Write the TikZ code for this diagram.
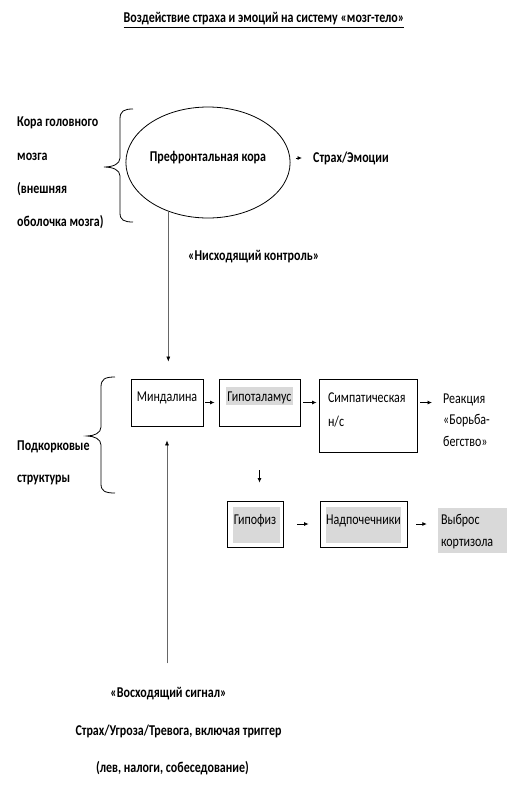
\documentclass[tikz,border=0pt]{standalone}
\usepackage{fontspec}
\setmainfont{Carlito}[FakeStretch=0.8]
\usetikzlibrary{arrows.meta}
\usetikzlibrary{shapes.geometric}
\definecolor{hlgrey}{gray}{0.85}
\newcommand{\greyhl}[1]{{\setlength{\fboxsep}{0pt}\colorbox{hlgrey}{\rule[-3.5pt]{0pt}{18pt}\hspace{1.5pt}#1\hspace{1.5pt}}}}
\tikzset{arr/.style = {-{Latex[length=4.5pt, width=4pt]}, line width=0.8pt}}
\tikzset{longarr/.style = {-{Latex[length=5pt, width=4pt, color=black]}, draw=gray!80!black, line width=0.6pt}}
\tikzset{box/.style = {draw, line width=0.8pt, inner sep=0pt, text height=10pt, text depth=12pt}}
\tikzset{bold/.style = {font=\bfseries}}

\begin{document}
\fontsize{15}{18}\selectfont
\begin{tikzpicture}[x=1pt, y=-1pt]
	\useasboundingbox (0,0) rectangle (520,788);
	\node[bold] (title) at (264,20) {\underline{Воздействие страха и эмоций на систему «мозг-тело»}};
	\node[anchor=west, align=left, font=\bfseries\fontsize{15}{33.3}\selectfont] (cortex) at (12,173)
		{Кора головного\\мозга\\(внешняя\\оболочка мозга)};
	\draw[line width=0.8pt] (133,109) .. controls (124,109) and (120,111) .. (120,119) -- (120,158)
		.. controls (120,164) and (113,167) .. (104,167) .. controls (113,167) and (120,170) .. (120,176)
		-- (120,213) .. controls (120,220) and (124,222) .. (133,222);
	\node[draw, ellipse, line width=0.8pt, minimum width=158pt, minimum height=111pt, inner sep=0pt,
		bold, text height=10pt, text depth=12pt] (pfc) at (208,162.5) {Префронтальная кора};
	\node[bold, anchor=west] (fear) at (308,158) {Страх/Эмоции};
	\draw[arr, shorten <=5pt, shorten >=6pt] (pfc.east |- fear.west) -- (fear.west);
	\node[bold, anchor=west] (down) at (183,257) {«Нисходящий контроль»};

	\draw[line width=0.8pt] (115,377) .. controls (105,377) and (101,379) .. (101,387) -- (101,427)
		.. controls (101,433) and (94,436) .. (87,436) .. controls (94,436) and (101,439) .. (101,445)
		-- (101,484) .. controls (101,491) and (105,493) .. (115,493);
	\node[anchor=west, align=left, font=\bfseries\fontsize{15}{32}\selectfont] (subcortex) at (12,463)
		{Подкорковые\\структуры};

	\node[box, minimum width=72pt, minimum height=47pt] (amy) at (167,402.5) {Миндалина};
	\node[box, minimum width=81pt, minimum height=47pt] (hyp) at (259.5,402.5) {\greyhl{Гипоталамус}};
	\node[box, minimum width=98pt, minimum height=73pt, text width=80pt, align=left, text depth=36pt,
		font=\fontsize{15}{24}\selectfont] (sym) at (368,415.5) {Симпатическая\\н/с};
	\node[anchor=west, align=left, font=\fontsize{15}{21.5}\selectfont] (reac) at (438,420)
		{Реакция\\«Борьба-\\бегство»};

	\fill[hlgrey] (233,507) rectangle (280,543);
	\fill[hlgrey] (326,507) rectangle (401,543);
	\node[box, minimum width=56pt, minimum height=46pt, text depth=9pt] (pit) at (255,524) {Гипофиз};
	\node[box, minimum width=87pt, minimum height=46pt, text depth=9pt] (adr) at (363.5,524) {Надпочечники};
	\node[fill=hlgrey, minimum width=69pt, minimum height=45pt, inner sep=0pt, text width=63pt, align=left,
		text height=10pt, text depth=22pt, font=\fontsize{15}{22}\selectfont] (cort) at (472.5,530.5)
		{Выброс\\кортизола};

	\draw[arr, shorten <=2pt, shorten >=4pt] (amy) -- (hyp);
	\draw[arr, shorten <=3pt, shorten >=2pt] (hyp.east) -- (hyp.east -| sym.west);
	\draw[arr, shorten <=3pt, shorten >=6pt] (hyp.east -| sym.east) -- (hyp.east -| reac.west);
	\draw[arr, shorten <=44pt, shorten >=18pt] (hyp.south) -- (hyp.south |- pit.north);
	\draw[arr, shorten <=14pt, shorten >=11pt] (pit) -- (adr);
	\draw[arr, shorten <=9pt, shorten >=11pt] (adr.east) -- (adr.east -| cort.west);

	\node[bold] (signal) at (168.5,694) {«Восходящий сигнал»};
	\node[bold] (threat) at (178.5,731) {Страх/Угроза/Тревога, включая триггер};
	\node[bold] (cases) at (172.5,768) {(лев, налоги, собеседование)};
	\draw[longarr, shorten >=17pt] (pfc.231) -- (pfc.231 |- amy.north);
	\draw[longarr, shorten <=19pt, shorten >=14pt] (amy.south |- signal.north) -- (amy.south);
\end{tikzpicture}
\end{document}
